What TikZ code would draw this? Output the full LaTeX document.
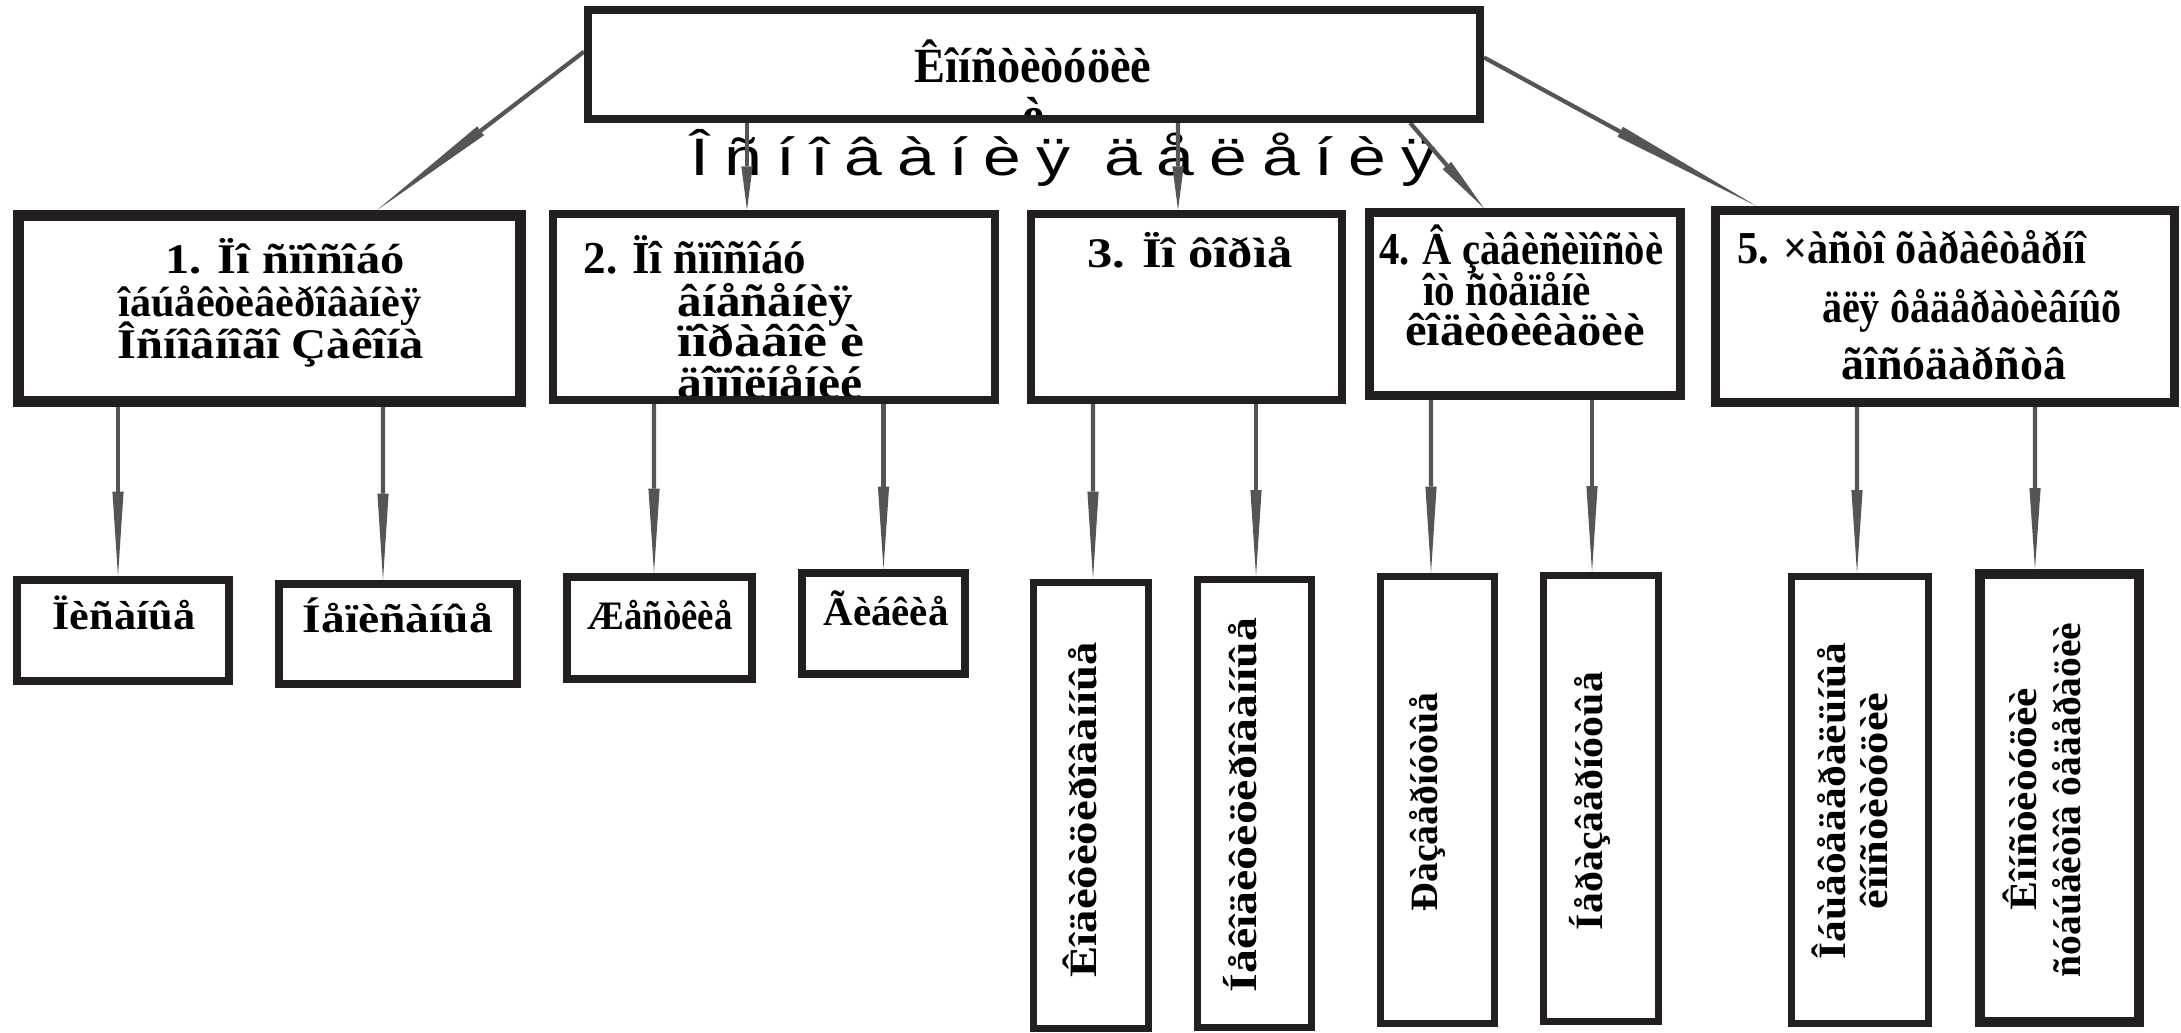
\documentclass[tikz,border=0pt]{standalone}
\usepackage{fontspec}
\usepackage{graphicx}
\setmainfont{Liberation Serif}
\newfontfamily\spacedsans[LetterSpace=22]{Liberation Sans}
\usetikzlibrary{positioning,calc,fit}

\definecolor{boxline}{RGB}{35,31,32}
\definecolor{arrowgray}{RGB}{85,85,85}

\pgfdeclarelayer{bg}
\pgfsetlayers{bg,main}

% squeeze or stretch a line to a given width
\newcommand{\fw}[2]{\resizebox{#1}{\height}{#2}}

% tapered connector: shaft to the middle, long wedge to the end
\newcommand{\taper}[2]{%
  \coordinate (tA) at (#1);
  \coordinate (tB) at (#2);
  \draw[shaft] (tA) -- ($(tA)!0.5!(tB)$);
  \fill[wedge] ($(tA)!0.5!(tB)!1.6pt!90:(tB)$) -- (tB)
    -- ($(tA)!0.5!(tB)!1.6pt!-90:(tB)$) -- cycle;}
\newcommand{\vtaper}[3]{%
  \coordinate (vB) at ([xshift=#3]#2.north);
  \taper{#1.south -| vB}{vB}}

\tikzset{
  frame/.style={draw=boxline, line width=#1, rectangle, inner sep=0pt},
  shaft/.style={draw=arrowgray, line width=1.2pt},
  wedge/.style={fill=arrowgray},
  txt/.style={anchor=base, inner sep=0pt, font=\bfseries\fontsize{12}{12}\selectfont},
  txtb/.style={txt, font=\bfseries\fontsize{13}{13}\selectfont},
  small/.style={txt, font=\bfseries\fontsize{11.5}{11.5}\selectfont},
  upright/.style={anchor=center, inner sep=0pt, rotate=90, font=\bfseries\fontsize{11}{11}\selectfont}
}

\begin{document}
\begin{tikzpicture}[x=0.1mm, y=-0.1mm]
  \useasboundingbox (0,0) rectangle (2181,1033);

  % frames
  \node[frame=0.8mm, fit={(588,10) (1480,119)}] (top) {};
  \node[frame=1.1mm, fit={(18.5,215.5) (520.5,401.5)}] (b1) {};
  \node[frame=0.8mm, fit={(553,214) (995,400)}] (b2) {};
  \node[frame=0.8mm, fit={(1031,214) (1342,400)}] (b3) {};
  \node[frame=0.9mm, fit={(1369.5,212.5) (1680.5,395.5)}] (b4) {};
  \node[frame=0.9mm, fit={(1715.5,210.5) (2174.5,402.5)}] (b5) {};
  \node[frame=0.8mm, fit={(17,580) (229,681)}] (b11) {};
  \node[frame=0.8mm, fit={(279,584) (517,684)}] (b12) {};
  \node[frame=0.8mm, fit={(567,577) (752,679)}] (b21) {};
  \node[frame=0.8mm, fit={(802,573) (965,674)}] (b22) {};
  \node[frame=0.7mm, fit={(1033.5,582.5) (1148.5,1028.5)}] (b31) {};
  \node[frame=0.7mm, fit={(1197.5,579.5) (1311.5,1027.5)}] (b32) {};
  \node[frame=0.7mm, fit={(1380.5,576.5) (1494.5,1023.5)}] (b41) {};
  \node[frame=0.7mm, fit={(1543.5,575.5) (1658.5,1021.5)}] (b42) {};
  \node[frame=0.7mm, fit={(1791.5,576.5) (1928.5,1023.5)}] (b51) {};
  \node[frame=1.0mm, fit={(1980,574) (2139,1022)}] (b52) {};

  % title
  \node[txt, font=\bfseries\fontsize{14}{14}\selectfont] (t0a) at (1033,83) {\fw{23.7mm}{Êîíñòèòóöèè}};

  % level 2
  \node[txt] (t1a) at (285,274) {\fw{24.0mm}{1. Ïî ñïîñîáó}};
  \node[txt] (t1b) at (270,317) {\fw{30.3mm}{îáúåêòèâèðîâàíèÿ}};
  \node[txt] (t1c) at (271,358) {\fw{30.6mm}{Îñíîâíîãî Çàêîíà}};
  \node[txtb] (t2a) at (695,274) {\fw{22.3mm}{2. Ïî ñïîñîáó}};
  \node[txtb, anchor=base west] (t2b) at (677,316) {\fw{17.5mm}{âíåñåíèÿ}};
  \node[txtb, anchor=base west] (t2c) at (677,357) {\fw{18.7mm}{ïîðàâîê è}};
  \node[txt] (t3a) at (1190,268) {\fw{20.5mm}{3. Ïî ôîðìå}};
  \node[txtb] (t4a) at (1521,265) {\fw{28.4mm}{4. Â çàâèñèìîñòè}};
  \node[txtb] (t4b) at (1507,306) {\fw{16.8mm}{îò ñòåïåíè}};
  \node[txtb] (t4c) at (1525,346) {\fw{24.0mm}{êîäèôèêàöèè}};
  \node[txtb] (t5a) at (1912,264) {\fw{34.9mm}{5. ×àñòî õàðàêòåðíî}};
  \node[txtb] (t5b) at (1972,322) {\fw{30.0mm}{äëÿ ôåäåðàòèâíûõ}};
  \node[txtb] (t5c) at (1954,379) {\fw{22.5mm}{ãîñóäàðñòâ}};

  % level 3
  \node[small] (t11) at (124,629) {\fw{14.3mm}{Ïèñàíûå}};
  \node[small] (t12) at (398,632) {\fw{19.0mm}{Íåïèñàíûå}};
  \node[small] (t21) at (660,629) {\fw{14.5mm}{Æåñòêèå}};
  \node[small] (t22) at (886,625) {\fw{12.5mm}{Ãèáêèå}};
  \node[upright] (t31) at (1080,810) {\fw{33.5mm}{Êîäèôèöèðîâàííûå}};
  \node[upright] (t32) at (1240,805) {\fw{37.5mm}{Íåêîäèôèöèðîâàííûå}};
  \node[upright] (t41) at (1427,802) {\fw{21.9mm}{Ðàçâåðíóòûå}};
  \node[upright] (t42) at (1590,801) {\fw{25.8mm}{Íåðàçâåðíóòûå}};
  \node[upright] (t51a) at (1829,801) {\fw{31.7mm}{Îáùåôåäåðàëüíûå}};
  \node[upright] (t51b) at (1874,801) {\fw{21.7mm}{êîíñòèòóöèè}};
  \node[upright] (t52a) at (2020,799) {\fw{22.2mm}{Êîíñòèòóöèè}};
  \node[upright] (t52b) at (2067,800) {\fw{35.5mm}{ñóáúåêòîâ ôåäåðàöèè}};

  \begin{pgfonlayer}{bg}
    % text running under the frames
    \begin{scope}
      \clip (top.north west) rectangle ($(top.south east)+(0,-4)$);
      \node[txt, font=\bfseries\fontsize{14}{14}\selectfont] (t0b) at (1033,132) {è};
    \end{scope}
    \node[txtb, anchor=base west] (t2d) at (677,398) {\fw{18.5mm}{äîïîëíåíèé}};
    \node[anchor=base, inner sep=0pt, font=\spacedsans\fontsize{15}{15}\selectfont] (t0c)
      at (1063,176) {\fw{74.5mm}{Îñíîâàíèÿ äåëåíèÿ}};

    % connectors
    \taper{$(top.north west)!0.39!(top.south west)$}{$(b1.north west)!0.71!(b1.north east)$}
    \vtaper{top}{b2}{-2.7mm}
    \vtaper{top}{b3}{-0.85mm}
    \taper{$(top.south west)!0.918!(top.south east)$}{$(b4.north west)!0.371!(b4.north east)$}
    \taper{$(top.north east)!0.44!(top.south east)$}{$(b5.north west)!0.097!(b5.north east)$}
    \vtaper{b1}{b11}{-0.5mm}
    \vtaper{b1}{b12}{-1.5mm}
    \vtaper{b2}{b21}{-0.55mm}
    \vtaper{b2}{b22}{0mm}
    \vtaper{b3}{b31}{0.2mm}
    \vtaper{b3}{b32}{0.15mm}
    \vtaper{b4}{b41}{-0.65mm}
    \vtaper{b4}{b42}{-0.9mm}
    \vtaper{b5}{b51}{-0.3mm}
    \vtaper{b5}{b52}{-2.45mm}
  \end{pgfonlayer}
\end{tikzpicture}
\end{document}
